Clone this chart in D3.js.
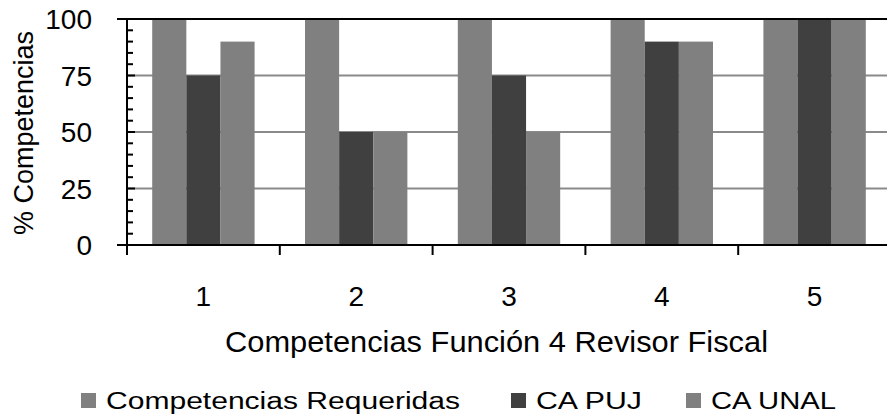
<!DOCTYPE html>
<html>
<head>
<meta charset="utf-8">
<script src="https://cdn.jsdelivr.net/npm/d3@7"></script>
<style>
  body { margin: 0; background: #fff; }
  text { font-family: "Liberation Sans", Arial, sans-serif; fill: #000; }
</style>
</head>
<body>
<svg id="chart"></svg>
<script>
// data
var categories = ["1", "2", "3", "4", "5"];
var seriesNames = ["Competencias Requeridas", "CA PUJ", "CA UNAL"];
var requeridas = [100, 100, 100, 100, 100];
var caPuj = [75, 50, 75, 90, 100];
var caUnal = [90, 50, 50, 90, 100];
var yTicks = [0, 25, 50, 75, 100];
var colors = ["#808080", "#404040", "#808080"];

var svgWidth = 887, svgHeight = 419;
var plotLeft = 127, plotRight = 891, plotTop = 19, plotBottom = 245;

var svg = d3.select("#chart")
  .attr("width", svgWidth)
  .attr("height", svgHeight);

var x = d3.scaleBand()
  .domain(categories)
  .range([plotLeft, plotRight])
  .paddingInner(0.33)
  .paddingOuter(0.165);

var xs = d3.scaleBand()
  .domain(seriesNames)
  .range([0, x.bandwidth()]);

var y = d3.scaleLinear().domain([0, 100]).range([plotBottom, plotTop]);

var values = [requeridas, caPuj, caUnal];
var rows = [];
categories.forEach(function (c, i) {
  seriesNames.forEach(function (s, j) {
    rows.push({ cat: c, series: s, idx: j, value: values[j][i] });
  });
});

// grid lines
svg.append("g")
  .selectAll("line")
  .data(yTicks.filter(function (d) { return d > 0 && d < 100; }))
  .enter().append("line")
  .attr("x1", plotLeft).attr("x2", svgWidth)
  .attr("y1", function (d) { return y(d); })
  .attr("y2", function (d) { return y(d); })
  .attr("stroke", "#8a8a8a")
  .attr("stroke-width", 2);

// bars
svg.append("g")
  .selectAll("rect")
  .data(rows)
  .enter().append("rect")
  .attr("x", function (d) { return x(d.cat) + xs(d.series); })
  .attr("y", function (d) { return y(d.value); })
  .attr("width", xs.bandwidth())
  .attr("height", function (d) { return y(0) - y(d.value); })
  .attr("fill", function (d) { return colors[d.idx]; });

// top border
svg.append("line")
  .attr("x1", plotLeft - 10).attr("x2", svgWidth)
  .attr("y1", y(100)).attr("y2", y(100))
  .attr("stroke", "#000").attr("stroke-width", 2);

// y axis
var yAxis = svg.append("g");
yAxis.append("line")
  .attr("x1", plotLeft).attr("x2", plotLeft)
  .attr("y1", y(100)).attr("y2", y(0) + 10)
  .attr("stroke", "#000").attr("stroke-width", 2);

yAxis.selectAll(".minor")
  .data(d3.range(0, 101, 5))
  .enter().append("line")
  .attr("class", "minor")
  .attr("x1", plotLeft).attr("x2", function (d) { return d % 25 === 0 ? plotLeft + 8 : plotLeft + 6; })
  .attr("y1", function (d) { return y(d); })
  .attr("y2", function (d) { return y(d); })
  .attr("stroke", "#000").attr("stroke-width", 2);

yAxis.selectAll("text")
  .data(yTicks)
  .enter().append("text")
  .attr("x", 92)
  .attr("y", function (d) { return y(d); })
  .attr("dy", "0.36em")
  .attr("text-anchor", "end")
  .style("font-size", "28px")
  .text(function (d) { return d; });

svg.append("text")
  .attr("transform", "translate(33," + ((plotTop + plotBottom) / 2 + 1) + ") rotate(-90)")
  .attr("text-anchor", "middle")
  .style("font-size", "27px")
  .text("% Competencias");

// x axis
var xAxis = svg.append("g");
xAxis.append("line")
  .attr("x1", plotLeft - 10).attr("x2", svgWidth)
  .attr("y1", y(0)).attr("y2", y(0))
  .attr("stroke", "#000").attr("stroke-width", 2);

var gap = (x.step() - x.bandwidth()) / 2;
xAxis.selectAll(".tick")
  .data(categories)
  .enter().append("line")
  .attr("class", "tick")
  .attr("x1", function (d) { return x(d) - gap; })
  .attr("x2", function (d) { return x(d) - gap; })
  .attr("y1", y(0)).attr("y2", y(0) + 10)
  .attr("stroke", "#000").attr("stroke-width", 2);

xAxis.selectAll("text")
  .data(categories)
  .enter().append("text")
  .attr("x", function (d) { return x(d) + x.bandwidth() / 2; })
  .attr("y", 306)
  .attr("text-anchor", "middle")
  .style("font-size", "28px")
  .text(function (d) { return d; });

svg.append("text")
  .attr("x", 225)
  .attr("y", 352)
  .attr("textLength", 543)
  .attr("lengthAdjust", "spacingAndGlyphs")
  .style("font-size", "30px")
  .text("Competencias Función 4 Revisor Fiscal");

// legend
var legendX = [81, 511, 686];
var legendW = [354, 106, 125];
var legend = svg.append("g")
  .selectAll("g")
  .data(seriesNames)
  .enter().append("g")
  .attr("transform", function (d, i) { return "translate(" + legendX[i] + ",393)"; });

legend.append("rect")
  .attr("width", 15).attr("height", 15)
  .attr("fill", function (d, i) { return colors[i]; });

legend.append("text")
  .attr("x", 25)
  .attr("y", 16)
  .attr("textLength", function (d, i) { return legendW[i]; })
  .attr("lengthAdjust", "spacingAndGlyphs")
  .style("font-size", "23px")
  .text(function (d) { return d; });
</script>
</body>
</html>
